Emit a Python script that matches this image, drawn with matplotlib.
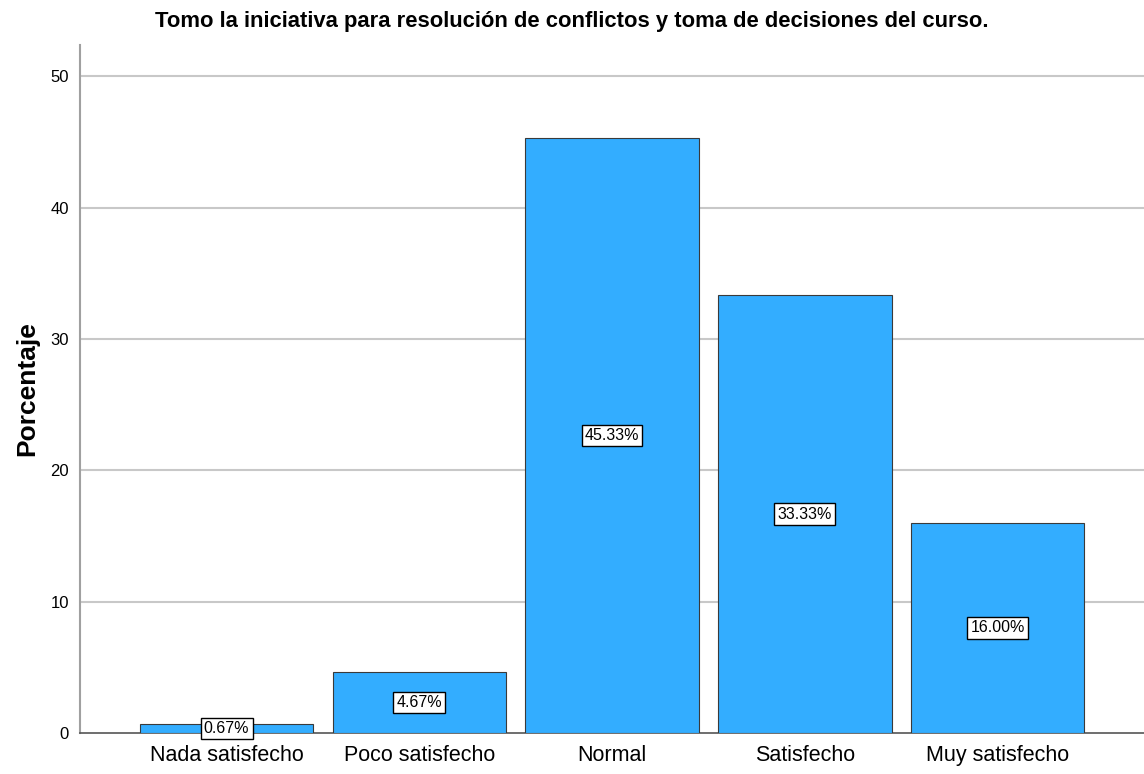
import matplotlib
matplotlib.use("Agg")
import matplotlib.pyplot as plt

categories = ["Nada satisfecho", "Poco satisfecho", "Normal", "Satisfecho", "Muy satisfecho"]
percentages = [0.67, 4.67, 45.33, 33.33, 16.00]
y_ticks = [0, 10, 20, 30, 40, 50]

plt.rcParams["font.family"] = ["Liberation Sans", "DejaVu Sans"]

fig = plt.figure(figsize=(11.44, 7.74), dpi=100)
ax = fig.add_axes([0.070, 0.053, 0.930, 0.889])

x = range(len(categories))
ax.bar(x, percentages, width=0.9, color="#33adff", edgecolor="#3a3a3a", linewidth=0.8, zorder=3)

for i, v in enumerate(percentages):
    ax.text(i, v / 2, f"{v:.2f}%", ha="center", va="center", fontsize=11.5,
            zorder=4, bbox=dict(boxstyle="square,pad=0.2", fc="white", ec="black", lw=1))

ax.set_xlim(-0.76, 4.76)
ax.set_ylim(0, 52.4)
ax.set_yticks(y_ticks)
ax.set_yticklabels([str(t) for t in y_ticks], fontsize=12)
ax.set_xticks(list(x))
ax.set_xticklabels(categories, fontsize=15.5)
ax.tick_params(axis="both", length=0, pad=8)
ax.tick_params(axis="x", pad=9)

for t in y_ticks[1:]:
    ax.axhline(t, color="#c8c8c8", linewidth=1.5, zorder=1)

for side in ["top", "right"]:
    ax.spines[side].set_visible(False)
ax.spines["left"].set_color("#a0a0a0")
ax.spines["left"].set_linewidth(1.5)
ax.spines["bottom"].set_color("#555555")
ax.spines["bottom"].set_linewidth(1.2)

ax.set_ylabel("Porcentaje", fontsize=19, fontweight="bold", labelpad=8)
fig.text(0.5, 0.972, "Tomo la iniciativa para resolución de conflictos y toma de decisiones del curso.",
         ha="center", va="center", fontsize=15.8, fontweight="bold")

fig.savefig("out.png", dpi=100)
